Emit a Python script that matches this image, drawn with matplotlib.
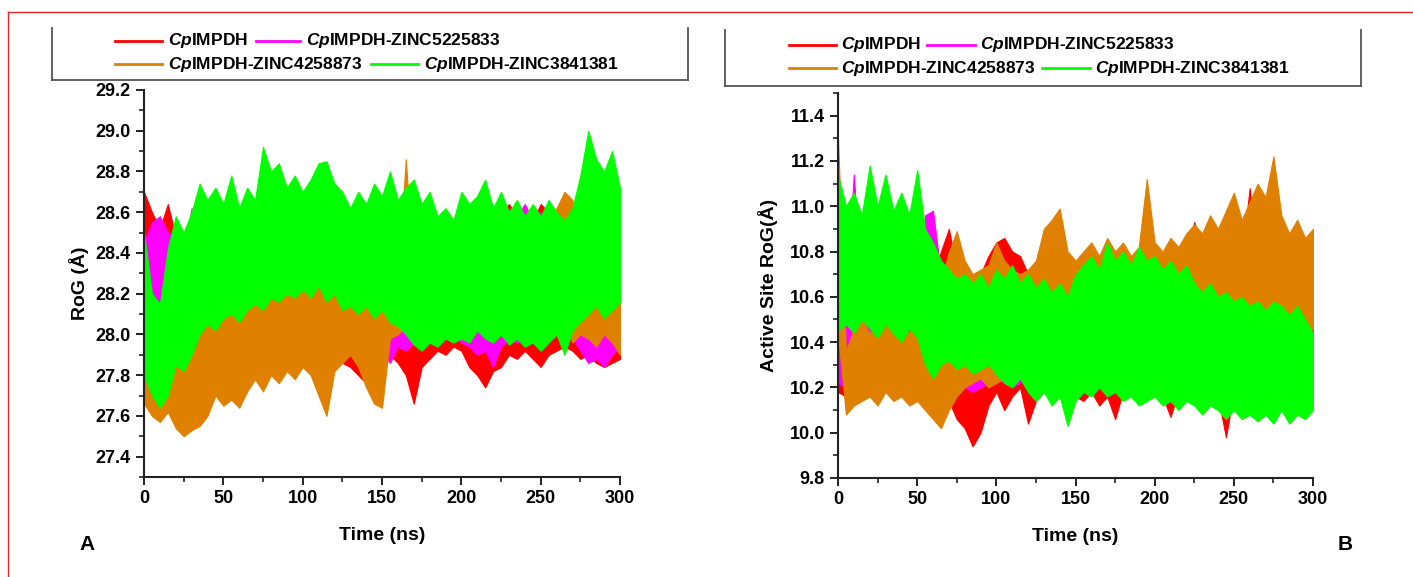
import numpy as np
import matplotlib
matplotlib.use("Agg")
import matplotlib.pyplot as plt
from matplotlib.lines import Line2D
from matplotlib.ticker import MultipleLocator, FormatStrFormatter

plt.rcParams["font.family"] = ["Liberation Sans", "DejaVu Sans"]
plt.rcParams["font.weight"] = "bold"
plt.rcParams["mathtext.fontset"] = "custom"
plt.rcParams["mathtext.bfit"] = "Liberation Sans:italic:bold"
plt.rcParams["mathtext.rm"] = "Liberation Sans:bold"

W, H = 1413, 577

# time grid of the read-off samples (ns)
time_ns = np.arange(0, 301, 5)

labels = [r"$\mathbfit{Cp}$IMPDH", r"$\mathbfit{Cp}$IMPDH-ZINC5225833",
          r"$\mathbfit{Cp}$IMPDH-ZINC4258873", r"$\mathbfit{Cp}$IMPDH-ZINC3841381"]
colors = ["#ff0000", "#ff00ff", "#e08000", "#00ff00"]

# ---- panel A: RoG (A), upper / lower excursions every 5 ns ----
rog_red_hi = [28.70, 28.60, 28.52, 28.64, 28.48, 28.40, 28.36, 28.34, 28.32, 28.30,
              28.34, 28.32, 28.36, 28.34, 28.38, 28.36, 28.34, 28.38, 28.40, 28.36,
              28.42, 28.38, 28.40, 28.36, 28.38, 28.34, 28.36, 28.38, 28.34, 28.36,
              28.34, 28.40, 28.44, 28.50, 28.56, 28.58, 28.52, 28.56, 28.60, 28.54,
              28.58, 28.56, 28.60, 28.58, 28.62, 28.60, 28.64, 28.58, 28.62, 28.56,
              28.64, 28.60, 28.58, 28.62, 28.56, 28.50, 28.46, 28.40, 28.44, 28.40,
              28.36]
rog_red_lo = [28.20, 28.15, 28.10, 28.00, 27.96, 27.90, 27.92, 27.90, 27.92, 27.94,
              27.90, 27.92, 27.94, 27.90, 27.92, 27.88, 27.90, 27.86, 27.88, 27.90,
              27.92, 27.88, 27.90, 27.92, 27.90, 27.86, 27.84, 27.80, 27.76, 27.74,
              27.80, 27.90, 27.86, 27.80, 27.66, 27.84, 27.88, 27.92, 27.90, 27.94,
              27.92, 27.84, 27.80, 27.74, 27.82, 27.84, 27.90, 27.88, 27.92, 27.88,
              27.84, 27.90, 27.92, 27.94, 27.92, 27.88, 27.90, 27.86, 27.84, 27.86,
              27.88]
rog_mag_hi = [28.45, 28.55, 28.58, 28.50, 28.48, 28.40, 28.62, 28.30, 28.28, 28.25,
              28.30, 28.25, 28.30, 28.28, 28.32, 28.30, 28.28, 28.30, 28.34, 28.30,
              28.36, 28.38, 28.34, 28.32, 28.30, 28.34, 28.30, 28.28, 28.32, 28.30,
              28.28, 28.30, 28.34, 28.32, 28.36, 28.40, 28.44, 28.50, 28.54, 28.50,
              28.52, 28.60, 28.56, 28.62, 28.58, 28.56, 28.62, 28.58, 28.64, 28.56,
              28.60, 28.54, 28.58, 28.52, 28.56, 28.50, 28.44, 28.40, 28.46, 28.42,
              28.40]
rog_mag_lo = [28.00, 28.10, 28.15, 28.10, 28.02, 27.95, 27.90, 27.90, 27.88, 27.92,
              27.94, 28.05, 27.96, 27.92, 27.90, 27.88, 27.84, 27.80, 27.84, 27.90,
              27.92, 27.94, 27.92, 27.94, 27.96, 27.92, 27.94, 27.92, 27.90, 27.88,
              27.92, 27.86, 27.94, 27.92, 27.96, 27.94, 27.98, 27.96, 27.98, 28.00,
              27.96, 27.94, 27.90, 27.92, 27.84, 27.94, 27.98, 27.96, 27.98, 28.00,
              27.98, 28.00, 28.02, 28.00, 27.98, 27.92, 27.86, 27.88, 27.84, 27.90,
              27.94]
rog_org_hi = [28.00, 27.90, 27.95, 27.90, 27.92, 27.85, 27.95, 28.00, 28.14, 28.18,
              28.12, 28.16, 28.10, 28.22, 28.26, 28.20, 28.28, 28.24, 28.30, 28.22,
              28.28, 28.32, 28.26, 28.30, 28.22, 28.26, 28.20, 28.24, 28.18, 28.20,
              28.14, 28.22, 28.26, 28.86, 28.30, 28.26, 28.20, 28.24, 28.18, 28.22,
              28.20, 28.24, 28.18, 28.22, 28.20, 28.24, 28.22, 28.26, 28.30, 28.40,
              28.50, 28.56, 28.62, 28.70, 28.66, 28.38, 28.30, 28.20, 28.28, 28.22,
              28.18]
rog_org_lo = [27.66, 27.60, 27.57, 27.62, 27.54, 27.50, 27.53, 27.55, 27.60, 27.70,
              27.65, 27.68, 27.64, 27.72, 27.78, 27.72, 27.80, 27.76, 27.82, 27.78,
              27.84, 27.80, 27.70, 27.60, 27.82, 27.86, 27.90, 27.84, 27.74, 27.66,
              27.64, 27.98, 28.00, 28.04, 28.02, 28.04, 28.02, 28.04, 28.00, 28.04,
              28.02, 28.06, 28.02, 28.04, 28.06, 28.02, 28.06, 28.04, 28.06, 28.02,
              28.04, 28.06, 28.08, 28.04, 27.96, 28.00, 27.98, 27.94, 28.00, 27.96,
              27.90]
rog_grn_hi = [28.50, 28.20, 28.15, 28.42, 28.58, 28.50, 28.60, 28.74, 28.66, 28.72,
              28.64, 28.78, 28.62, 28.72, 28.66, 28.92, 28.80, 28.84, 28.72, 28.78,
              28.70, 28.76, 28.84, 28.85, 28.74, 28.70, 28.62, 28.70, 28.64, 28.74,
              28.68, 28.80, 28.66, 28.72, 28.76, 28.64, 28.70, 28.58, 28.62, 28.56,
              28.70, 28.64, 28.68, 28.76, 28.62, 28.70, 28.60, 28.66, 28.58, 28.64,
              28.58, 28.66, 28.60, 28.56, 28.62, 28.78, 29.00, 28.86, 28.80, 28.90,
              28.72]
rog_grn_lo = [27.80, 27.70, 27.64, 27.70, 27.85, 27.82, 27.90, 28.00, 28.05, 28.02,
              28.08, 28.10, 28.06, 28.12, 28.15, 28.12, 28.18, 28.16, 28.20, 28.18,
              28.22, 28.18, 28.24, 28.16, 28.20, 28.12, 28.14, 28.10, 28.14, 28.08,
              28.12, 28.06, 28.04, 28.00, 27.95, 27.92, 27.96, 27.94, 27.98, 27.96,
              27.98, 27.96, 28.02, 27.98, 27.96, 28.00, 27.95, 27.98, 27.94, 27.96,
              27.92, 27.96, 28.00, 27.90, 28.02, 28.06, 28.10, 28.14, 28.08, 28.12,
              28.16]

# ---- panel B: active site RoG (A) ----
as_red_hi = [10.42, 10.40, 10.50, 10.55, 10.60, 10.62, 10.58, 10.60, 10.62, 10.58,
             10.60, 10.64, 10.70, 10.80, 10.90, 10.72, 10.70, 10.66, 10.70, 10.78,
             10.84, 10.86, 10.80, 10.78, 10.70, 10.68, 10.66, 10.64, 10.66, 10.62,
             10.68, 10.70, 10.66, 10.72, 10.70, 10.74, 10.72, 10.76, 10.74, 10.78,
             10.76, 10.74, 10.78, 10.76, 10.80, 10.93, 10.80, 10.84, 10.82, 10.94,
             10.80, 10.76, 11.08, 10.78, 10.74, 10.70, 10.66, 10.62, 10.60, 10.58,
             10.56]
as_red_lo = [10.18, 10.16, 10.20, 10.18, 10.16, 10.18, 10.20, 10.16, 10.18, 10.20,
             10.16, 10.14, 10.18, 10.20, 10.14, 10.06, 10.02, 9.94, 10.00, 10.12,
             10.18, 10.10, 10.16, 10.20, 10.04, 10.14, 10.18, 10.16, 10.20, 10.18,
             10.16, 10.14, 10.18, 10.12, 10.16, 10.06, 10.18, 10.20, 10.16, 10.18,
             10.20, 10.16, 10.07, 10.18, 10.20, 10.22, 10.18, 10.20, 10.16, 9.98,
             10.18, 10.20, 10.18, 10.22, 10.16, 10.14, 10.12, 10.16, 10.18, 10.20,
             10.22]
as_mag_hi = [10.44, 10.60, 11.14, 10.62, 10.58, 10.64, 10.60, 10.66, 10.62, 10.60,
             10.64, 10.96, 10.98, 10.70, 10.66, 10.62, 10.64, 10.60, 10.62, 10.64,
             10.66, 10.62, 10.64, 10.60, 10.62, 10.64, 10.62, 10.60, 10.64, 10.62,
             10.60, 10.64, 10.62, 10.66, 10.64, 10.62, 10.66, 10.64, 10.62, 10.66,
             10.64, 10.62, 10.66, 10.64, 10.62, 10.64, 10.66, 10.62, 10.64, 10.66,
             10.62, 10.60, 10.64, 10.62, 10.60, 10.58, 10.62, 10.60, 10.56, 10.52,
             10.48]
as_mag_lo = [10.22, 10.20, 10.24, 10.22, 10.26, 10.24, 10.22, 10.26, 10.24, 10.22,
             10.26, 10.30, 10.28, 10.24, 10.22, 10.24, 10.20, 10.18, 10.20, 10.22,
             10.24, 10.22, 10.20, 10.22, 10.24, 10.20, 10.22, 10.24, 10.22, 10.20,
             10.22, 10.24, 10.20, 10.22, 10.18, 10.20, 10.22, 10.24, 10.22, 10.20,
             10.22, 10.20, 10.24, 10.22, 10.20, 10.22, 10.24, 10.20, 10.22, 10.24,
             10.26, 10.28, 10.30, 10.32, 10.34, 10.36, 10.32, 10.30, 10.34, 10.32,
             10.36]
as_org_hi = [11.30, 10.36, 10.46, 10.50, 10.44, 10.48, 10.52, 10.46, 10.50, 10.44,
             10.50, 10.58, 10.62, 10.66, 10.80, 10.89, 10.76, 10.70, 10.72, 10.74,
             10.84, 10.76, 10.72, 10.70, 10.72, 10.76, 10.90, 10.94, 10.99, 10.80,
             10.76, 10.80, 10.84, 10.78, 10.86, 10.80, 10.84, 10.78, 10.82, 11.12,
             10.84, 10.80, 10.86, 10.82, 10.88, 10.92, 10.88, 10.96, 10.90, 10.98,
             11.06, 10.94, 11.02, 11.10, 11.04, 11.22, 10.96, 10.88, 10.94, 10.86,
             10.90]
as_org_lo = [10.44, 10.08, 10.12, 10.14, 10.16, 10.12, 10.18, 10.14, 10.16, 10.12,
             10.14, 10.10, 10.06, 10.02, 10.10, 10.16, 10.20, 10.22, 10.24, 10.20,
             10.22, 10.24, 10.22, 10.24, 10.20, 10.22, 10.24, 10.26, 10.22, 10.24,
             10.26, 10.24, 10.26, 10.28, 10.24, 10.26, 10.28, 10.30, 10.28, 10.30,
             10.32, 10.34, 10.30, 10.32, 10.36, 10.34, 10.38, 10.36, 10.40, 10.42,
             10.40, 10.44, 10.42, 10.46, 10.40, 10.36, 10.34, 10.40, 10.42, 10.44,
             10.46]
as_grn_hi = [11.14, 11.00, 11.06, 10.96, 11.18, 11.00, 11.14, 10.98, 11.06, 10.96,
             11.16, 10.90, 10.84, 10.76, 10.72, 10.68, 10.70, 10.66, 10.70, 10.64,
             10.72, 10.68, 10.74, 10.66, 10.70, 10.64, 10.68, 10.62, 10.66, 10.60,
             10.70, 10.74, 10.78, 10.72, 10.84, 10.76, 10.80, 10.74, 10.82, 10.76,
             10.78, 10.72, 10.76, 10.70, 10.74, 10.66, 10.62, 10.66, 10.60, 10.62,
             10.58, 10.60, 10.56, 10.58, 10.54, 10.58, 10.56, 10.52, 10.56, 10.50,
             10.44]
as_grn_lo = [10.45, 10.48, 10.44, 10.50, 10.46, 10.42, 10.48, 10.44, 10.40, 10.46,
             10.42, 10.30, 10.24, 10.30, 10.32, 10.28, 10.30, 10.26, 10.28, 10.30,
             10.26, 10.22, 10.20, 10.24, 10.18, 10.14, 10.18, 10.12, 10.16, 10.03,
             10.14, 10.18, 10.16, 10.20, 10.16, 10.18, 10.14, 10.16, 10.12, 10.14,
             10.16, 10.12, 10.14, 10.10, 10.14, 10.12, 10.08, 10.12, 10.10, 10.06,
             10.10, 10.06, 10.08, 10.05, 10.08, 10.04, 10.10, 10.04, 10.08, 10.06,
             10.10]

rog_series = [(rog_red_hi, rog_red_lo), (rog_mag_hi, rog_mag_lo),
              (rog_org_hi, rog_org_lo), (rog_grn_hi, rog_grn_lo)]
as_series = [(as_red_hi, as_red_lo), (as_mag_hi, as_mag_lo),
             (as_org_hi, as_org_lo), (as_grn_hi, as_grn_lo)]


def px_box(x0, y0, x1, y1):
    # pixel box (top-left origin) -> figure fraction rect
    return [x0 / W, 1 - y1 / H, (x1 - x0) / W, (y1 - y0) / H]


def draw_panel(ax, series, ylim, ymajor, ylabel, ypad):
    # later series sit on top, like the original overlay order
    for k, ((hi, lo), c) in enumerate(zip(series, colors)):
        ax.fill_between(time_ns, lo, hi, facecolor=c, edgecolor=c, lw=0.8,
                        zorder=2 + k)
    ax.set_xlim(0, 300)
    ax.set_ylim(*ylim)
    ax.xaxis.set_major_locator(MultipleLocator(50))
    ax.xaxis.set_minor_locator(MultipleLocator(25))
    ax.yaxis.set_major_locator(MultipleLocator(ymajor))
    ax.yaxis.set_minor_locator(MultipleLocator(ymajor / 2))
    ax.yaxis.set_major_formatter(FormatStrFormatter("%.1f"))
    for s in ["top", "right"]:
        ax.spines[s].set_visible(False)
    for s in ["left", "bottom"]:
        ax.spines[s].set_linewidth(1.5)
        ax.spines[s].set_color("#222222")
        ax.spines[s].set_zorder(10)
    ax.tick_params(which="major", direction="out", length=6, width=1.4,
                   labelsize=13, color="#222222")
    ax.tick_params(which="minor", direction="out", length=3.5, width=1.2,
                   color="#222222")
    ax.set_xlabel("Time (ns)", fontsize=14, fontweight="bold", labelpad=14)
    ax.set_ylabel(ylabel, fontsize=14, fontweight="bold", labelpad=ypad)


def draw_legend(fig, box, rows):
    x0, y0, x1, y1 = box
    for xs, ys in [([x0, x0], [y0, y1]), ([x0, x1], [y1, y1]), ([x1, x1], [y0, y1])]:
        fig.add_artist(Line2D([v / W for v in xs], [1 - v / H for v in ys],
                              color="#555555", lw=1.3))
    for y, entries in rows:
        for (xa, xb, xt, idx) in entries:
            fig.add_artist(Line2D([xa / W, xb / W], [1 - y / H, 1 - y / H],
                                  color=colors[idx], lw=2))
            fig.text(xt / W, 1 - y / H, labels[idx], fontsize=12.5,
                     fontweight="bold", ha="left", va="center")


fig = plt.figure(figsize=(W / 100, H / 100), dpi=100)

axA = fig.add_axes(px_box(144, 90, 620, 477))
draw_panel(axA, rog_series, (27.3, 29.2), 0.2, "RoG (Å)", 5)
axB = fig.add_axes(px_box(838, 93, 1313, 478))
draw_panel(axB, as_series, (9.8, 11.5), 0.2, "Active Site RoG(Å)", 8)

draw_legend(fig, (52, 28, 688, 80),
            [(41, [(115, 162, 168, 0), (256, 300, 306, 1)]),
             (64, [(115, 162, 168, 2), (371, 418, 424, 3)])])
draw_legend(fig, (725, 30, 1361, 86),
            [(45, [(789, 836, 841, 0), (927, 975, 980, 1)]),
             (68, [(789, 836, 841, 2), (1042, 1090, 1095, 3)])])

fig.text(87 / W, 1 - 545 / H, "A", fontsize=15, fontweight="bold", ha="center", va="center")
fig.text(1345 / W, 1 - 545 / H, "B", fontsize=15, fontweight="bold", ha="center", va="center")

# red frame of the original page
fig.add_artist(Line2D([8 / W, 1.0], [1 - 12 / H, 1 - 12 / H], color="#e62828", lw=1))
fig.add_artist(Line2D([8 / W, 8 / W], [1 - 12 / H, 0.0], color="#e62828", lw=1))

fig.savefig("out.png", dpi=100)
